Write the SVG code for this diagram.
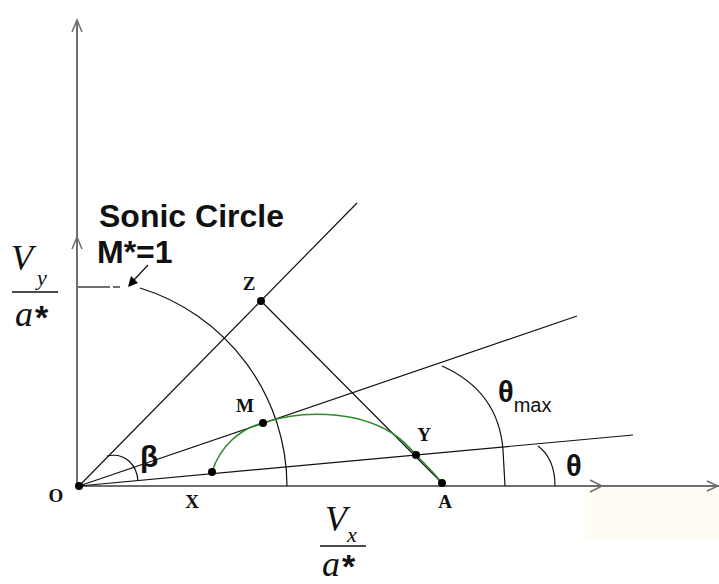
<svg xmlns="http://www.w3.org/2000/svg" width="719" height="584" viewBox="0 0 719 584">
<style>
.axis{stroke:#6e6e6e;stroke-width:2;fill:none}
.ah{stroke:#6e6e6e;stroke-width:1.5;fill:none}
.ln{stroke:#111;stroke-width:1.2;fill:none}
.polar{stroke:#2e8b2e;stroke-width:1.6;fill:none}
.pt{fill:#000}
.lbl{font-family:"Liberation Serif",serif;font-weight:bold;font-size:19px;fill:#111;text-anchor:middle}
.sans{font-family:"Liberation Sans",Arial,sans-serif;font-weight:bold;fill:#111}
.it{font-family:"Liberation Serif",serif;font-style:italic;fill:#111}
.star{font-family:"Liberation Sans",Arial,sans-serif;font-weight:bold;font-style:normal}
</style>
<rect width="719" height="584" fill="#fff"/>
<rect x="585" y="488" width="134" height="52" fill="#fffdf3"/>
<g id="axes">
<line class="axis" x1="77" y1="486" x2="77" y2="20"/>
<line class="axis" x1="77" y1="486" x2="719" y2="486"/>
<polyline class="ah" points="72,32 77,20 82,32"/>
<polyline class="ah" points="72,249 77,237 82,249"/>
<polyline class="ah" points="590,480 602,486 590,492"/>
<polyline class="ah" points="707,481 718,486 707,491"/>
</g>
<g id="connectors">
<line class="ln" x1="79" y1="486" x2="357" y2="203"/>
<line class="ln" x1="261" y1="301" x2="442" y2="483"/>
<line class="ln" x1="79" y1="486" x2="577" y2="316"/>
<line class="ln" x1="79" y1="486" x2="633" y2="435"/>
<line class="ln" x1="78" y1="287" x2="110" y2="287"/>
<line class="ln" x1="113" y1="287" x2="120" y2="287"/>
<path class="ln" d="M140,288 A208,208 0 0 1 287,486"/>
<path class="ln" d="M107,456 C125,452 137,465 138,481"/>
<path class="ln" d="M442,366 C478,382 500,410 503,450 L505,486"/>
<path class="ln" d="M538,446 C550,455 555,468 555,486"/>
<line class="ln" x1="148" y1="265" x2="133" y2="281" stroke-width="1.5"/>
<polygon class="pt" points="128,287 131,276 138,283"/>
<path class="polar" d="M212,472 C220,446 240,429 263,423 C300,410 355,410 392,433 C404,441 411,449 416,455 C426,465 435,474 442,483"/>
</g>
<g id="O"><circle class="pt" cx="79" cy="486" r="4"/><text class="lbl" x="56" y="502">O</text></g>
<g id="X"><circle class="pt" cx="212" cy="472" r="4"/><text class="lbl" x="192" y="508">X</text></g>
<g id="A"><circle class="pt" cx="442" cy="483" r="4"/><text class="lbl" x="445" y="508">A</text></g>
<g id="Y"><circle class="pt" cx="416" cy="455" r="4"/><text class="lbl" x="424" y="441">Y</text></g>
<g id="Z"><circle class="pt" cx="261" cy="301" r="4"/><text class="lbl" x="249" y="290">Z</text></g>
<g id="M"><circle class="pt" cx="263" cy="423" r="4"/><text class="lbl" x="245" y="412">M</text></g>
<g id="sonic">
<text class="sans" x="99" y="227" font-size="32">Sonic Circle</text>
<text class="sans" x="97" y="263" font-size="32">M*=1</text>
</g>
<g id="angles">
<text class="sans" x="140" y="467" font-size="30">β</text>
<text class="sans" x="498" y="402" font-size="29">θ<tspan font-size="20" font-weight="normal" dy="10">max</tspan></text>
<text class="sans" x="566" y="476" font-size="29">θ</text>
</g>
<g id="vy">
<text class="it" x="11" y="270" font-size="36">V</text>
<text class="it" x="37" y="285" font-size="22">y</text>
<line x1="12" y1="292" x2="58" y2="292" stroke="#111" stroke-width="1.5"/>
<text class="it" x="15" y="326" font-size="36">a<tspan class="star" font-size="34" dx="2" dy="3">*</tspan></text>
</g>
<g id="vx">
<text class="it" x="325" y="531" font-size="36">V</text>
<text class="it" x="347" y="542" font-size="22">x</text>
<line x1="320" y1="546" x2="366" y2="546" stroke="#111" stroke-width="1.5"/>
<text class="it" x="322" y="576" font-size="36">a<tspan class="star" font-size="34" dx="2" dy="2">*</tspan></text>
</g>
</svg>
